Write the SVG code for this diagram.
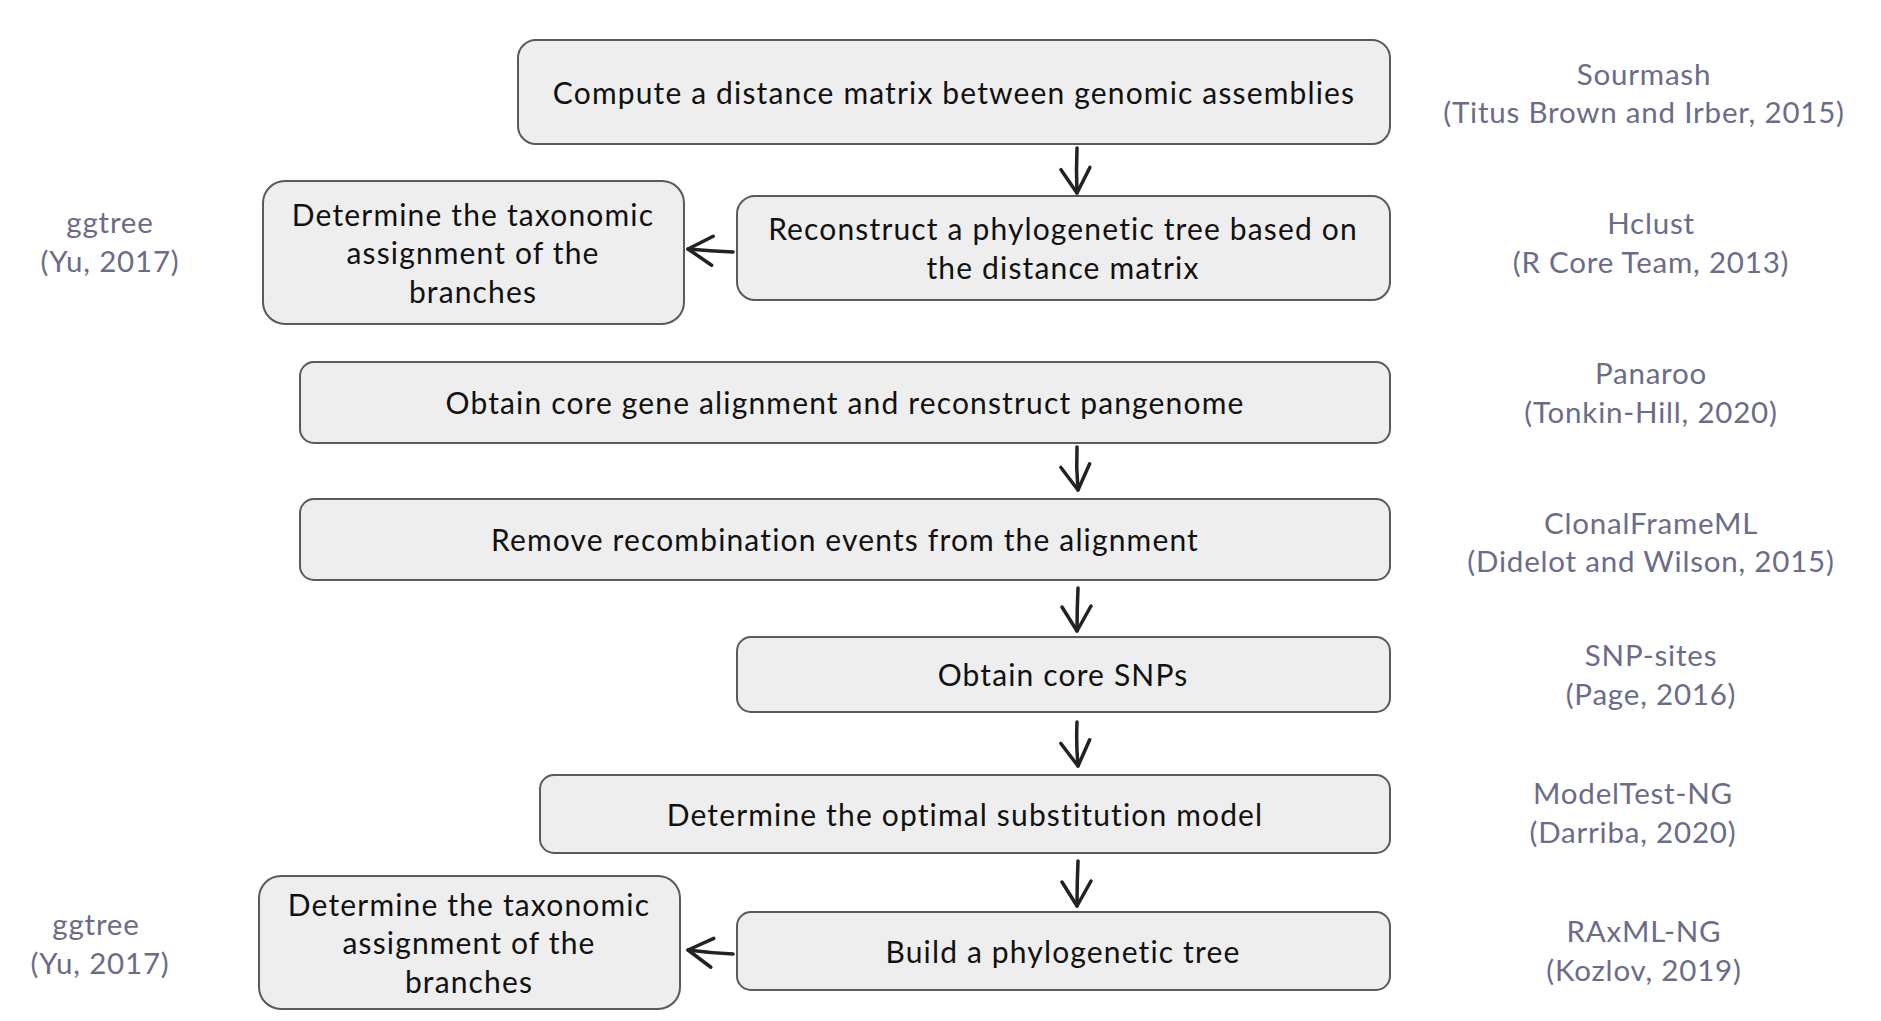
<svg xmlns="http://www.w3.org/2000/svg" width="1881" height="1021" viewBox="0 0 1881 1021">
<style>
.box{fill:#eeeeee;stroke:#5a5a5a;stroke-width:2}
.t{font-family:Lato,"Liberation Sans",sans-serif;font-size:30px;letter-spacing:1.15px;fill:#111;text-anchor:middle}
.g{font-family:Lato,"Liberation Sans",sans-serif;font-size:29.5px;letter-spacing:0.8px;fill:#6b6c88;text-anchor:middle}
.c{fill:none;stroke:#222;stroke-width:3.5;stroke-linecap:round;stroke-linejoin:round}
</style>
<defs>
<marker id="ah" markerUnits="userSpaceOnUse" markerWidth="50" markerHeight="50" viewBox="-30 -25 50 50" refX="0" refY="0" orient="auto">
<path d="M -25 -14 L 0 0 L -24 15" fill="none" stroke="#222" stroke-width="3.5" stroke-linecap="round" stroke-linejoin="round"/>
</marker>
</defs>
<rect width="1881" height="1021" fill="#ffffff"/>

<g id="n1"><rect class="box" x="518" y="40" width="872" height="104" rx="18"/>
<text class="t" x="954" y="104">Compute a distance matrix between genomic assemblies</text></g>

<g id="n2"><rect class="box" x="737" y="196" width="653" height="104" rx="18"/>
<text class="t" x="1063" y="240">Reconstruct a phylogenetic tree based on</text>
<text class="t" x="1063" y="279">the distance matrix</text></g>

<g id="n3"><rect class="box" x="263" y="181" width="421" height="143" rx="22"/>
<text class="t" x="473" y="226">Determine the taxonomic</text>
<text class="t" x="473" y="264">assignment of the</text>
<text class="t" x="473" y="303">branches</text></g>

<g id="n4"><rect class="box" x="300" y="362" width="1090" height="81" rx="14"/>
<text class="t" x="845" y="414">Obtain core gene alignment and reconstruct pangenome</text></g>

<g id="n5"><rect class="box" x="300" y="499" width="1090" height="81" rx="14"/>
<text class="t" x="845" y="551">Remove recombination events from the alignment</text></g>

<g id="n6"><rect class="box" x="737" y="637" width="653" height="75" rx="14"/>
<text class="t" x="1063" y="686">Obtain core SNPs</text></g>

<g id="n7"><rect class="box" x="540" y="775" width="850" height="78" rx="14"/>
<text class="t" x="965" y="826">Determine the optimal substitution model</text></g>

<g id="n8"><rect class="box" x="737" y="912" width="653" height="78" rx="14"/>
<text class="t" x="1063" y="963">Build a phylogenetic tree</text></g>

<g id="n9"><rect class="box" x="259" y="876" width="421" height="133" rx="22"/>
<text class="t" x="469" y="916">Determine the taxonomic</text>
<text class="t" x="469" y="954">assignment of the</text>
<text class="t" x="469" y="993">branches</text></g>

<g id="labels">
<g id="l1"><text class="g" x="1644" y="85">Sourmash</text><text class="g" x="1644" y="123">(Titus Brown and Irber, 2015)</text></g>
<g id="l2"><text class="g" x="1651" y="234">Hclust</text><text class="g" x="1651" y="273">(R Core Team, 2013)</text></g>
<g id="l3"><text class="g" x="1651" y="384">Panaroo</text><text class="g" x="1651" y="423">(Tonkin-Hill, 2020)</text></g>
<g id="l4"><text class="g" x="1651" y="534">ClonalFrameML</text><text class="g" x="1651" y="572">(Didelot and Wilson, 2015)</text></g>
<g id="l5"><text class="g" x="1651" y="666">SNP-sites</text><text class="g" x="1651" y="705">(Page, 2016)</text></g>
<g id="l6"><text class="g" x="1633" y="804">ModelTest-NG</text><text class="g" x="1633" y="843">(Darriba, 2020)</text></g>
<g id="l7"><text class="g" x="1644" y="942">RAxML-NG</text><text class="g" x="1644" y="981">(Kozlov, 2019)</text></g>
<g id="l8"><text class="g" x="110" y="233">ggtree</text><text class="g" x="110" y="272">(Yu, 2017)</text></g>
<g id="l9"><text class="g" x="96" y="935">ggtree</text><text class="g" x="100" y="974">(Yu, 2017)</text></g>
</g>

<g id="connectors">
<path class="c" marker-end="url(#ah)" d="M 1077 148 Q 1076 170 1077 193"/>
<path class="c" marker-end="url(#ah)" d="M 1077 447 Q 1076 468 1078 490"/>
<path class="c" marker-end="url(#ah)" d="M 1078 588 Q 1077 609 1077 631"/>
<path class="c" marker-end="url(#ah)" d="M 1077 722 Q 1076 744 1078 766"/>
<path class="c" marker-end="url(#ah)" d="M 1078 861 Q 1077 883 1077 906"/>
<path class="c" marker-end="url(#ah)" d="M 733 252 Q 710 251 688 249"/>
<path class="c" marker-end="url(#ah)" d="M 733 954 Q 710 953 688 950"/>
</g>
</svg>
